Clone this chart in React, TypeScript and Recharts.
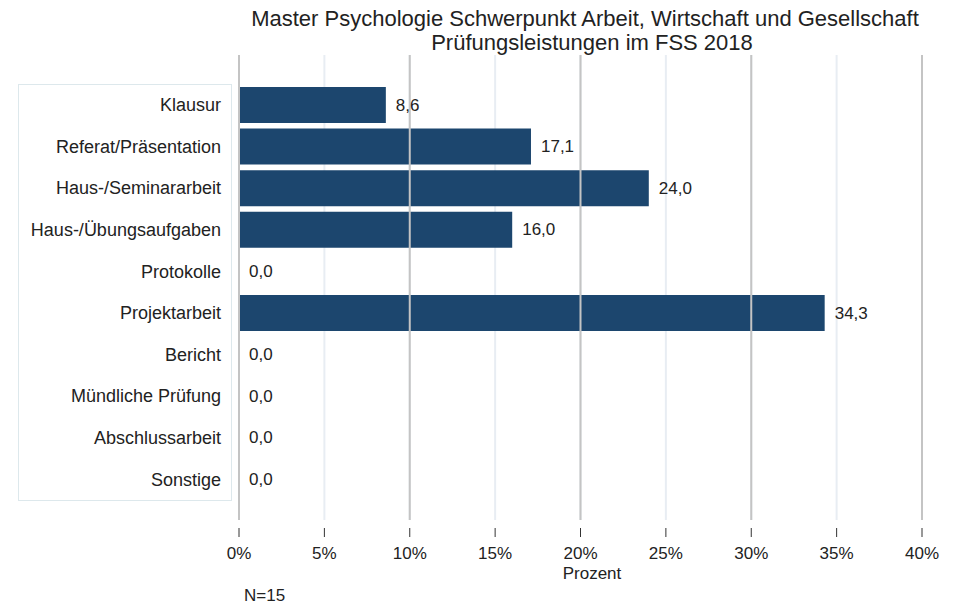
import React from 'react';
import {
  BarChart,
  Bar,
  XAxis,
  YAxis,
  CartesianGrid,
  ReferenceLine,
  LabelList
} from 'recharts';

const categories = [
  'Klausur',
  'Referat/Präsentation',
  'Haus-/Seminararbeit',
  'Haus-/Übungsaufgaben',
  'Protokolle',
  'Projektarbeit',
  'Bericht',
  'Mündliche Prüfung',
  'Abschlussarbeit',
  'Sonstige'
];
const percent = [8.6, 17.1, 24.0, 16.0, 0.0, 34.3, 0.0, 0.0, 0.0, 0.0];
const xTicks = [0, 5, 10, 15, 20, 25, 30, 35, 40];
const majorTicks = [0, 10, 20, 30, 40];

const data = categories.map((name, i) => ({ name, value: percent[i] }));

const FONT = 'Liberation Sans, Arial, sans-serif';

const XTick = ({ x, y, payload }: any) => (
  <g>
    <line x1={x} x2={x} y1={y + 8} y2={y + 17} stroke="#333" strokeWidth={1} />
    <text x={x} y={y + 39} textAnchor="middle" fontSize={17} fill="#222" fontFamily={FONT}>
      {payload.value}%
    </text>
  </g>
);

const ValueLabel = ({ x, y, width, height, value }: any) => (
  <text
    x={Number(x) + Number(width) + 10}
    y={Number(y) + Number(height) / 2}
    dominantBaseline="central"
    fontSize={17}
    fill="#222"
    fontFamily={FONT}
  >
    {Number(value).toFixed(1).replace('.', ',')}
  </text>
);

export default function App() {
  return (
    <div style={{ position: 'absolute', left: 0, top: 0, width: 957, height: 605, background: '#fff', fontFamily: FONT }}>
      <div style={{ position: 'absolute', left: 18, top: 84, width: 212, height: 415, border: '1px solid #dde8ec' }} />
      <div style={{ position: 'absolute', left: 0, top: 0 }}>
        <BarChart
          width={957}
          height={605}
          data={data}
          layout="vertical"
          margin={{ top: 55, right: 35, bottom: 0, left: 0 }}
          barSize={36}
        >
          <CartesianGrid horizontal={false} vertical stroke="#e8edf3" strokeWidth={2} />
          {majorTicks.map((t) => (
            <ReferenceLine key={t} x={t} stroke="#c4c4c4" strokeWidth={2} />
          ))}
          <XAxis
            type="number"
            domain={[0, 40]}
            ticks={xTicks}
            height={85}
            tickSize={0}
            tickMargin={0}
            axisLine={false}
            tickLine={false}
            tick={<XTick />}
            interval={0}
          />
          <YAxis
            type="category"
            dataKey="name"
            width={239}
            tickSize={0}
            tickMargin={18}
            axisLine={false}
            tickLine={false}
            interval={0}
            padding={{ top: 29, bottom: 20 }}
            tick={{ fontSize: 18, fill: '#222', fontFamily: FONT }}
          />
          <Bar dataKey="value" fill="#1c466e" isAnimationActive={false} minPointSize={0.01}>
            <LabelList dataKey="value" content={<ValueLabel />} />
          </Bar>
          <text x={585} y={26} textAnchor="middle" fontSize={22} fill="#222" fontFamily={FONT}>
            Master Psychologie Schwerpunkt Arbeit, Wirtschaft und Gesellschaft
          </text>
          <text x={592} y={50} textAnchor="middle" fontSize={22} fill="#222" fontFamily={FONT}>
            Prüfungsleistungen im FSS 2018
          </text>
          <text x={592} y={579} textAnchor="middle" fontSize={17} fill="#222" fontFamily={FONT}>
            Prozent
          </text>
          <text x={244} y={601} fontSize={17} fill="#222" fontFamily={FONT}>
            N=15
          </text>
        </BarChart>
      </div>
    </div>
  );
}
